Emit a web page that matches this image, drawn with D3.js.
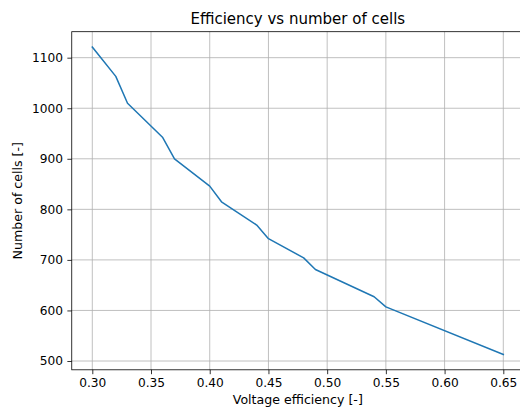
<!DOCTYPE html>
<html>
<head>
<meta charset="utf-8">
<script src="https://cdn.jsdelivr.net/npm/d3@7"></script>
<style>
  html, body { margin: 0; padding: 0; background: #fff; }
  svg { display: block; font-family: "DejaVu Sans", sans-serif; }
</style>
</head>
<body>
<svg id="chart" width="520" height="410"></svg>
<script>
// Voltage efficiency (x) and the resulting number of cells (y)
const efficiency = [0.30, 0.32, 0.33, 0.36, 0.37, 0.40, 0.41, 0.44, 0.45, 0.48, 0.49, 0.54, 0.55, 0.65];
const cells      = [1121, 1063, 1010, 942,  900,  846,  815,  769,  742,  704,  681,  627,  607,  513];
const xTicks = [0.30, 0.35, 0.40, 0.45, 0.50, 0.55, 0.60, 0.65];
const yTicks = [500, 600, 700, 800, 900, 1000, 1100];

const svg = d3.select("#chart");
const plot = { left: 71.75, right: 523.85, top: 31.7, bottom: 369.8 };

// matplotlib-style 5% padding around the data range
const xMin = d3.min(efficiency), xMax = d3.max(efficiency);
const yMin = d3.min(cells), yMax = d3.max(cells);
const xPad = (xMax - xMin) * 0.05, yPad = (yMax - yMin) * 0.05;

const x = d3.scaleLinear().domain([xMin - xPad, xMax + xPad]).range([plot.left, plot.right]);
const y = d3.scaleLinear().domain([yMin - yPad, yMax + yPad]).range([plot.bottom, plot.top]);

// grid
const grid = svg.append("g").attr("stroke", "#b0b0b0").attr("stroke-width", 0.8);
grid.selectAll("line.gx").data(xTicks).join("line")
  .attr("x1", d => x(d)).attr("x2", d => x(d))
  .attr("y1", plot.top).attr("y2", plot.bottom);
grid.selectAll("line.gy").data(yTicks).join("line")
  .attr("x1", plot.left).attr("x2", plot.right)
  .attr("y1", d => y(d)).attr("y2", d => y(d));

// data line
const pts = efficiency.map((e, i) => [e, cells[i]]);
svg.append("path")
  .datum(pts)
  .attr("fill", "none")
  .attr("stroke", "#1f77b4")
  .attr("stroke-width", 1.5)
  .attr("stroke-linejoin", "round")
  .attr("stroke-linecap", "square")
  .attr("d", d3.line().x(d => x(d[0])).y(d => y(d[1])));

// axes
const tickLen = 4.4, tickPad = 4.4;
const xAxis = svg.append("g")
  .attr("transform", `translate(0,${plot.bottom})`)
  .call(d3.axisBottom(x).tickValues(xTicks).tickFormat(d3.format(".2f"))
    .tickSizeInner(tickLen).tickSizeOuter(0).tickPadding(tickPad));
const yAxis = svg.append("g")
  .attr("transform", `translate(${plot.left},0)`)
  .call(d3.axisLeft(y).tickValues(yTicks).tickFormat(d3.format("d"))
    .tickSizeInner(tickLen).tickSizeOuter(0).tickPadding(tickPad));

[xAxis, yAxis].forEach(a => {
  a.selectAll(".domain").remove();
  a.selectAll(".tick line").attr("stroke", "#000").attr("stroke-width", 0.8);
  a.selectAll(".tick text")
    .attr("fill", "#000")
    .style("font-family", "'DejaVu Sans', sans-serif")
    .style("font-size", "12.2px");
});

// frame
svg.append("rect")
  .attr("x", plot.left).attr("y", plot.top)
  .attr("width", plot.right - plot.left).attr("height", plot.bottom - plot.top)
  .attr("fill", "none").attr("stroke", "#000").attr("stroke-width", 0.8);

// title and axis labels
svg.append("text")
  .attr("x", (plot.left + plot.right) / 2).attr("y", 23.5)
  .attr("text-anchor", "middle")
  .style("font-size", "15px")
  .text("Efficiency vs number of cells");

svg.append("text")
  .attr("x", (plot.left + plot.right) / 2).attr("y", 404)
  .attr("text-anchor", "middle")
  .style("font-size", "12.6px")
  .text("Voltage efficiency [-]");

svg.append("text")
  .attr("transform", `translate(21.5,${(plot.top + plot.bottom) / 2}) rotate(-90)`)
  .attr("text-anchor", "middle")
  .style("font-size", "12.6px")
  .text("Number of cells [-]");
</script>
</body>
</html>
